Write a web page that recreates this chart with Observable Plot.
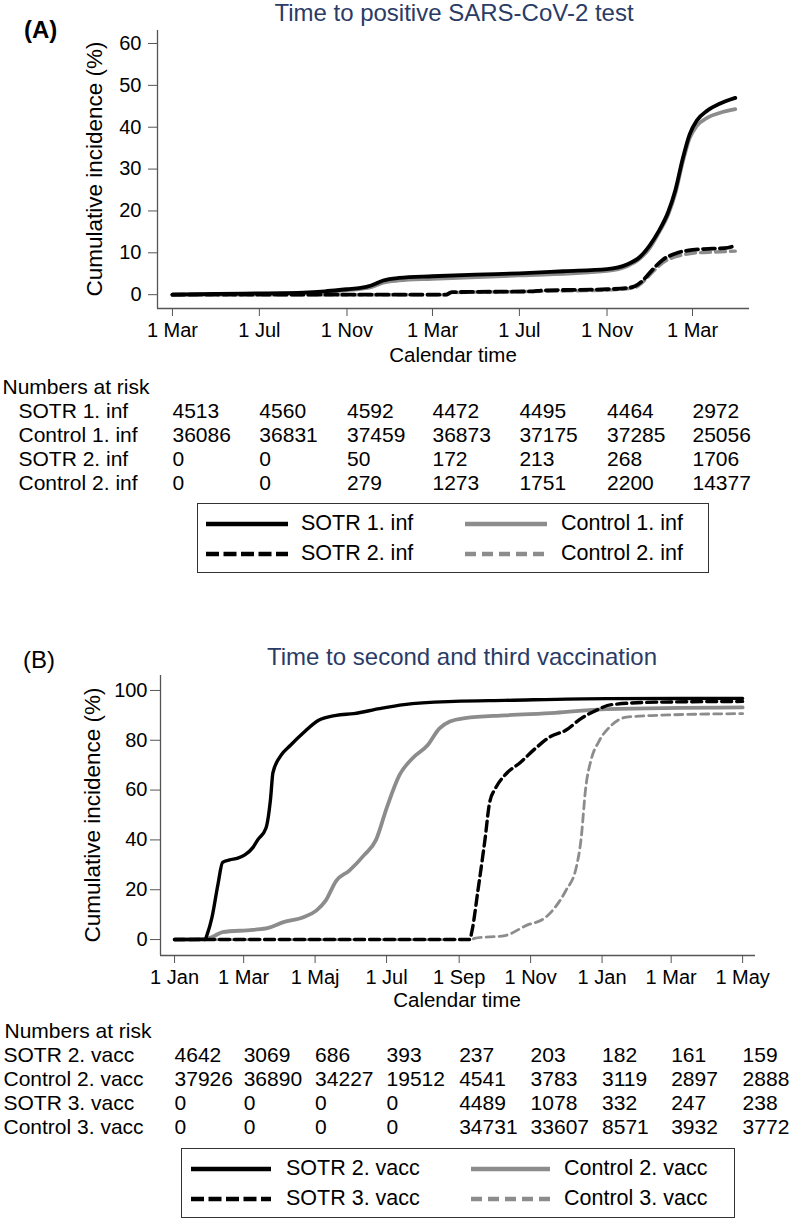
<!DOCTYPE html>
<html><head><meta charset="utf-8">
<script src="https://cdn.jsdelivr.net/npm/d3@7"></script>
<script src="https://cdn.jsdelivr.net/npm/@observablehq/plot@0.6"></script>
<style>
body{margin:0;background:#fff;}
#root{position:relative;width:795px;height:1219px;font-family:"Liberation Sans",Arial,sans-serif;overflow:hidden;background:#fff;}
.abs{position:absolute;white-space:nowrap;line-height:1;}
.abs svg{display:block;}
.lbl{z-index:5;}
</style></head><body><div id="root"></div>
<script>
// ---------------- Panel A data ----------------
const titleA = "Time to positive SARS-CoV-2 test";
const xDomainA = ["2020-02-09", "2022-05-20"];
const yDomainA = [-3.3, 63.1];
const yTicksA = [0, 10, 20, 30, 40, 50, 60];
const tickDatesA = ["2020-03-01","2020-07-01","2020-11-01","2021-03-01","2021-07-01","2021-11-01","2022-03-01"];
const tickLabelsA = ["1 Mar","1 Jul","1 Nov","1 Mar","1 Jul","1 Nov","1 Mar"];
const seriesNamesA = ["SOTR 1. inf","Control 1. inf","SOTR 2. inf","Control 2. inf"];

const sotr1Inf = [["2020-03-01",0],["2020-05-01",0.2],["2020-07-01",0.3],["2020-09-01",0.5],["2020-10-01",0.8],["2020-11-01",1.3],["2020-11-20",1.6],["2020-12-05",2.2],["2020-12-22",3.4],["2021-01-13",4.0],["2021-03-01",4.4],["2021-05-01",4.8],["2021-07-01",5.1],["2021-09-01",5.6],["2021-11-01",6.1],["2021-11-29",7.2],["2021-12-17",9.0],["2021-12-31",11.8],["2022-01-12",15.0],["2022-01-26",19.8],["2022-02-05",25.0],["2022-02-15",32.3],["2022-02-25",38.3],["2022-03-07",41.6],["2022-03-22",44.0],["2022-04-08",45.6],["2022-04-30",47.0]];
const control1Inf = [["2020-03-01",0],["2020-07-01",0.2],["2020-09-01",0.4],["2020-11-01",1.1],["2020-12-05",1.8],["2020-12-22",2.9],["2021-01-13",3.4],["2021-03-01",3.8],["2021-07-01",4.6],["2021-11-01",5.7],["2021-11-29",6.8],["2021-12-17",8.6],["2021-12-31",11.2],["2022-01-12",14.6],["2022-01-26",19.2],["2022-02-05",24.3],["2022-02-15",31.5],["2022-02-25",37.4],["2022-03-07",40.3],["2022-03-22",42.3],["2022-04-08",43.4],["2022-04-30",44.3]];
const sotr2Inf = [["2020-03-01",0],["2021-03-20",0],["2021-03-28",0.6],["2021-07-20",0.8],["2021-08-01",1.0],["2021-11-01",1.3],["2021-11-29",1.6],["2021-12-10",2.0],["2021-12-20",3.2],["2022-01-04",6.0],["2022-01-18",8.3],["2022-02-08",10.0],["2022-03-01",10.7],["2022-03-29",11.0],["2022-04-15",11.1],["2022-04-30",11.7]];
const control2Inf = [["2020-03-01",0],["2021-03-20",0],["2021-03-28",0.5],["2021-08-01",0.8],["2021-11-01",1.1],["2021-12-10",1.7],["2021-12-20",2.8],["2022-01-04",5.4],["2022-01-18",7.6],["2022-02-08",9.2],["2022-03-01",9.9],["2022-04-01",10.2],["2022-04-30",10.4]];

const riskSotr1Inf = [4513,4560,4592,4472,4495,4464,2972];
const riskControl1Inf = [36086,36831,37459,36873,37175,37285,25056];
const riskSotr2Inf = [0,0,50,172,213,268,1706];
const riskControl2Inf = [0,0,279,1273,1751,2200,14377];

// ---------------- Panel B data ----------------
const titleB = "Time to second and third vaccination";
const xDomainB = ["2020-12-20", "2022-05-12"];
const yDomainB = [-6.4, 106];
const yTicksB = [0, 20, 40, 60, 80, 100];
const tickDatesB = ["2021-01-01","2021-03-01","2021-05-01","2021-07-01","2021-09-01","2021-11-01","2022-01-01","2022-03-01","2022-05-01"];
const tickLabelsB = ["1 Jan","1 Mar","1 Maj","1 Jul","1 Sep","1 Nov","1 Jan","1 Mar","1 May"];
const seriesNamesB = ["SOTR 2. vacc","Control 2. vacc","SOTR 3. vacc","Control 3. vacc"];

const sotr2Vacc = [["2021-01-01",0],["2021-01-27",0],["2021-01-29",2.3],["2021-02-02",9],["2021-02-07",22],["2021-02-11",31],["2021-02-17",32],["2021-02-24",32.7],["2021-03-02",34],["2021-03-09",37],["2021-03-13",40],["2021-03-20",44.7],["2021-03-24",56.7],["2021-03-26",67],["2021-04-02",74],["2021-04-10",78],["2021-04-21",83],["2021-05-04",88],["2021-05-19",90],["2021-06-03",90.7],["2021-06-25",92.7],["2021-07-16",94.3],["2021-08-28",95.6],["2021-10-10",96],["2022-01-05",96.7],["2022-05-01",96.8]];
const control2Vacc = [["2021-01-01",0],["2021-01-27",0.3],["2021-02-02",1],["2021-02-11",3],["2021-03-09",3.9],["2021-03-22",4.7],["2021-04-04",7],["2021-04-21",9],["2021-05-02",11.6],["2021-05-10",15.6],["2021-05-19",23.6],["2021-05-30",27.6],["2021-06-12",34],["2021-06-22",40],["2021-07-01",52.7],["2021-07-12",66],["2021-07-23",72.7],["2021-08-05",78],["2021-08-15",84.7],["2021-08-24",87.5],["2021-09-06",88.9],["2021-10-10",90],["2021-11-22",91],["2022-01-05",92.5],["2022-05-01",93.2]];
const sotr3Vacc = [["2021-01-01",0],["2021-09-10",0],["2021-09-12",3.6],["2021-09-17",19.6],["2021-09-21",33],["2021-09-23",40],["2021-09-27",55],["2021-10-02",60.7],["2021-10-10",66],["2021-10-23",71],["2021-11-05",76.7],["2021-11-18",81.5],["2021-12-01",84],["2021-12-14",88.7],["2021-12-27",92],["2022-01-09",94.3],["2022-02-17",95.3],["2022-05-01",95.6]];
const control3Vacc = [["2021-01-01",0],["2021-09-12",0],["2021-09-14",0.5],["2021-10-10",1.6],["2021-10-28",5.6],["2021-11-14",9],["2021-11-22",13],["2021-12-01",19.6],["2021-12-10",29],["2021-12-14",40],["2021-12-18",60.7],["2021-12-23",72.7],["2021-12-29",79.3],["2022-01-09",86],["2022-01-22",89.3],["2022-02-17",90],["2022-05-01",90.7]];

const riskSotr2Vacc = [4642,3069,686,393,237,203,182,161,159];
const riskControl2Vacc = [37926,36890,34227,19512,4541,3783,3119,2897,2888];
const riskSotr3Vacc = [0,0,0,0,4489,1078,332,247,238];
const riskControl3Vacc = [0,0,0,0,34731,33607,8571,3932,3772];

// ---------------- styles ----------------
const FONT = '"Liberation Sans", Arial, sans-serif';
const TITLE_COLOR = "#2a3b66";
const AXIS_COLOR = "#555";
const GRAY = "#8c8c8c";
const styleSolidBlack = {stroke: "black", strokeWidth: 3.8};
const styleSolidGray = {stroke: GRAY, strokeWidth: 3.8};
const styleDashBlack = {stroke: "black", strokeWidth: 3.8, strokeDasharray: "12,5"};
const styleDashGray = {stroke: GRAY, strokeWidth: 3.4, strokeDasharray: "10,5"};

const root = document.getElementById("root");
const toDate = s => new Date(s + "T00:00:00Z");

function place(node, left, top) {
  const d = document.createElement("div");
  d.className = "abs";
  d.style.left = left + "px"; d.style.top = top + "px";
  d.appendChild(node);
  root.appendChild(d);
  return d;
}
function label(text, x, y, o = {}) {
  const d = document.createElement("div");
  d.className = "abs lbl";
  d.textContent = text;
  d.style.left = x + "px"; d.style.top = y + "px";
  d.style.fontSize = (o.size || 20) + "px";
  d.style.fontWeight = o.weight || "normal";
  d.style.color = o.color || "black";
  const tx = o.anchor === "start" ? "0" : "-50%";
  d.style.transform = `translate(${tx},-50%)` + (o.rotate ? ` rotate(${o.rotate}deg)` : "");
  root.appendChild(d);
  return d;
}

function chart(cfg) {
  const labelMap = new Map(cfg.tickDates.map((d, i) => [+toDate(d), cfg.tickLabels[i]]));
  const xd = cfg.xDomain.map(toDate);
  const lineMarks = cfg.series.map(s => Plot.line(s.data, {
    x: d => toDate(d[0]), y: d => d[1], curve: "monotone-x", ...s.style
  }));
  return Plot.plot({
    width: 795, height: cfg.height,
    marginLeft: cfg.mL, marginRight: cfg.mR, marginTop: cfg.mT, marginBottom: cfg.mB,
    style: {fontFamily: FONT, color: "black", background: "transparent", overflow: "visible"},
    x: {type: "utc", domain: xd},
    y: {domain: cfg.yDomain},
    marks: [
      ...lineMarks,
      Plot.ruleX([xd[0]], {stroke: AXIS_COLOR, strokeWidth: 1.3}),
      Plot.ruleY([cfg.yDomain[0]], {stroke: AXIS_COLOR, strokeWidth: 1.3}),
      Plot.axisY({ticks: cfg.yTicks, tickSize: cfg.yTickSize, tickPadding: cfg.yTickPad, fontSize: 20, stroke: AXIS_COLOR, label: null}),
      Plot.axisX({ticks: cfg.tickDates.map(toDate), tickFormat: d => labelMap.get(+d), tickSize: 8, tickPadding: 6, fontSize: 20, stroke: AXIS_COLOR, label: null})
    ]
  });
}

function riskTable(cfg) {
  const cells = [];
  cfg.rows.forEach((r, i) => cfg.values[i].forEach((v, j) => cells.push({row: r, date: toDate(cfg.tickDates[j]), v})));
  return Plot.plot({
    width: 795, height: cfg.height,
    marginLeft: cfg.mL, marginRight: cfg.mR, marginTop: 0, marginBottom: 0,
    style: {fontFamily: FONT, color: "black", background: "transparent", overflow: "visible"},
    x: {type: "utc", domain: cfg.xDomain.map(toDate), axis: null},
    y: {type: "point", domain: ["Numbers at risk", ...cfg.rows], range: cfg.yRange, padding: 0, axis: null},
    marks: [
      Plot.text(cells, {x: "date", y: "row", text: d => String(d.v), textAnchor: "start", fontSize: 21, fill: "black"}),
      Plot.text(cfg.rows, {y: d => d, text: d => d, frameAnchor: "left", textAnchor: "start", dx: cfg.rowX - cfg.mL, fontSize: 21, fill: "black"}),
      Plot.text(["Numbers at risk"], {y: d => d, text: d => d, frameAnchor: "left", textAnchor: "start", dx: cfg.headX - cfg.mL, fontSize: 21, fill: "black"})
    ]
  });
}

function legend(cfg) {
  const box = document.createElement("div");
  box.className = "abs";
  Object.assign(box.style, {left: cfg.left + "px", top: cfg.top + "px", width: cfg.width + "px", height: cfg.height + "px",
    border: "1.5px solid #333", boxSizing: "border-box", background: "white"});
  cfg.items.forEach(it => {
    const svg = d3.create("svg").attr("width", it.x2 - it.x1).attr("height", 10)
      .style("position", "absolute").style("left", it.x1 + "px").style("top", (it.y - 5) + "px");
    svg.append("line").attr("x1", 0).attr("x2", it.x2 - it.x1).attr("y1", 5).attr("y2", 5)
      .attr("stroke", it.style.stroke).attr("stroke-width", 4.4)
      .attr("stroke-dasharray", it.style.strokeDasharray || null);
    box.appendChild(svg.node());
    const t = document.createElement("div");
    t.className = "abs";
    t.textContent = it.name;
    Object.assign(t.style, {left: it.tx + "px", top: it.y + "px", fontSize: "21.5px", transform: "translateY(-50%)"});
    box.appendChild(t);
  });
  root.appendChild(box);
}

// ---------------- Panel A ----------------
place(chart({
  height: 345, mL: 157, mR: 46, mT: 30, mB: 37,
  xDomain: xDomainA, yDomain: yDomainA, yTicks: yTicksA, yTickSize: 9, yTickPad: 7,
  tickDates: tickDatesA, tickLabels: tickLabelsA,
  series: [
    {data: control1Inf, style: styleSolidGray},
    {data: control2Inf, style: styleDashGray},
    {data: sotr1Inf, style: styleSolidBlack},
    {data: sotr2Inf, style: styleDashBlack}
  ]
}), 0, 0);
label("(A)", 24, 30, {size: 24, weight: "bold", anchor: "start"});
label(titleA, 454, 13, {size: 24, color: TITLE_COLOR});
label("Cumulative incidence (%)", 95, 169, {size: 22.5, rotate: -90});
label("Calendar time", 453, 355, {size: 20.5});
place(riskTable({
  height: 125, mL: 157, mR: 46, xDomain: xDomainA, tickDates: tickDatesA,
  rows: seriesNamesA, values: [riskSotr1Inf, riskControl1Inf, riskSotr2Inf, riskControl2Inf],
  yRange: [17, 113], rowX: 18, headX: 2
}), 0, 370);
legend({left: 197, top: 503, width: 512, height: 70, items: [
  {name: seriesNamesA[0], style: styleSolidBlack, x1: 8, x2: 90, tx: 103, y: 20},
  {name: seriesNamesA[1], style: styleSolidGray, x1: 267, x2: 349, tx: 363, y: 20},
  {name: seriesNamesA[2], style: {stroke: "black", strokeDasharray: "13,4.5"}, x1: 8, x2: 90, tx: 103, y: 50},
  {name: seriesNamesA[3], style: {stroke: GRAY, strokeDasharray: "11,6"}, x1: 267, x2: 349, tx: 363, y: 50}
]});

// ---------------- Panel B ----------------
place(chart({
  height: 340, mL: 160, mR: 40, mT: 15, mB: 45,
  xDomain: xDomainB, yDomain: yDomainB, yTicks: yTicksB, yTickSize: 10, yTickPad: 3,
  tickDates: tickDatesB, tickLabels: tickLabelsB,
  series: [
    {data: control2Vacc, style: styleSolidGray},
    {data: control3Vacc, style: {...styleDashGray, strokeWidth: 2.8, strokeDasharray: "8,5"}},
    {data: sotr2Vacc, style: {...styleSolidBlack, strokeWidth: 3.4}},
    {data: sotr3Vacc, style: {...styleDashBlack, strokeWidth: 3.4, strokeDasharray: "10,5"}}
  ]
}), 0, 660);
label("(B)", 23, 660, {size: 24, anchor: "start"});
label(titleB, 462, 657, {size: 24, color: TITLE_COLOR});
label("Cumulative incidence (%)", 93, 815, {size: 22.5, rotate: -90});
label("Calendar time", 457, 1000, {size: 20.5});
place(riskTable({
  height: 125, mL: 160, mR: 40, xDomain: xDomainB, tickDates: tickDatesB,
  rows: seriesNamesB, values: [riskSotr2Vacc, riskControl2Vacc, riskSotr3Vacc, riskControl3Vacc],
  yRange: [15, 112], rowX: 3, headX: 4
}), 0, 1015);
legend({left: 181, top: 1148, width: 554, height: 70, items: [
  {name: seriesNamesB[0], style: styleSolidBlack, x1: 9, x2: 89, tx: 104, y: 20},
  {name: seriesNamesB[1], style: styleSolidGray, x1: 289, x2: 368, tx: 382, y: 20},
  {name: seriesNamesB[2], style: {stroke: "black", strokeDasharray: "13,4.5"}, x1: 9, x2: 89, tx: 104, y: 50},
  {name: seriesNamesB[3], style: {stroke: GRAY, strokeDasharray: "11,6"}, x1: 289, x2: 368, tx: 382, y: 50}
]});
</script></body></html>
